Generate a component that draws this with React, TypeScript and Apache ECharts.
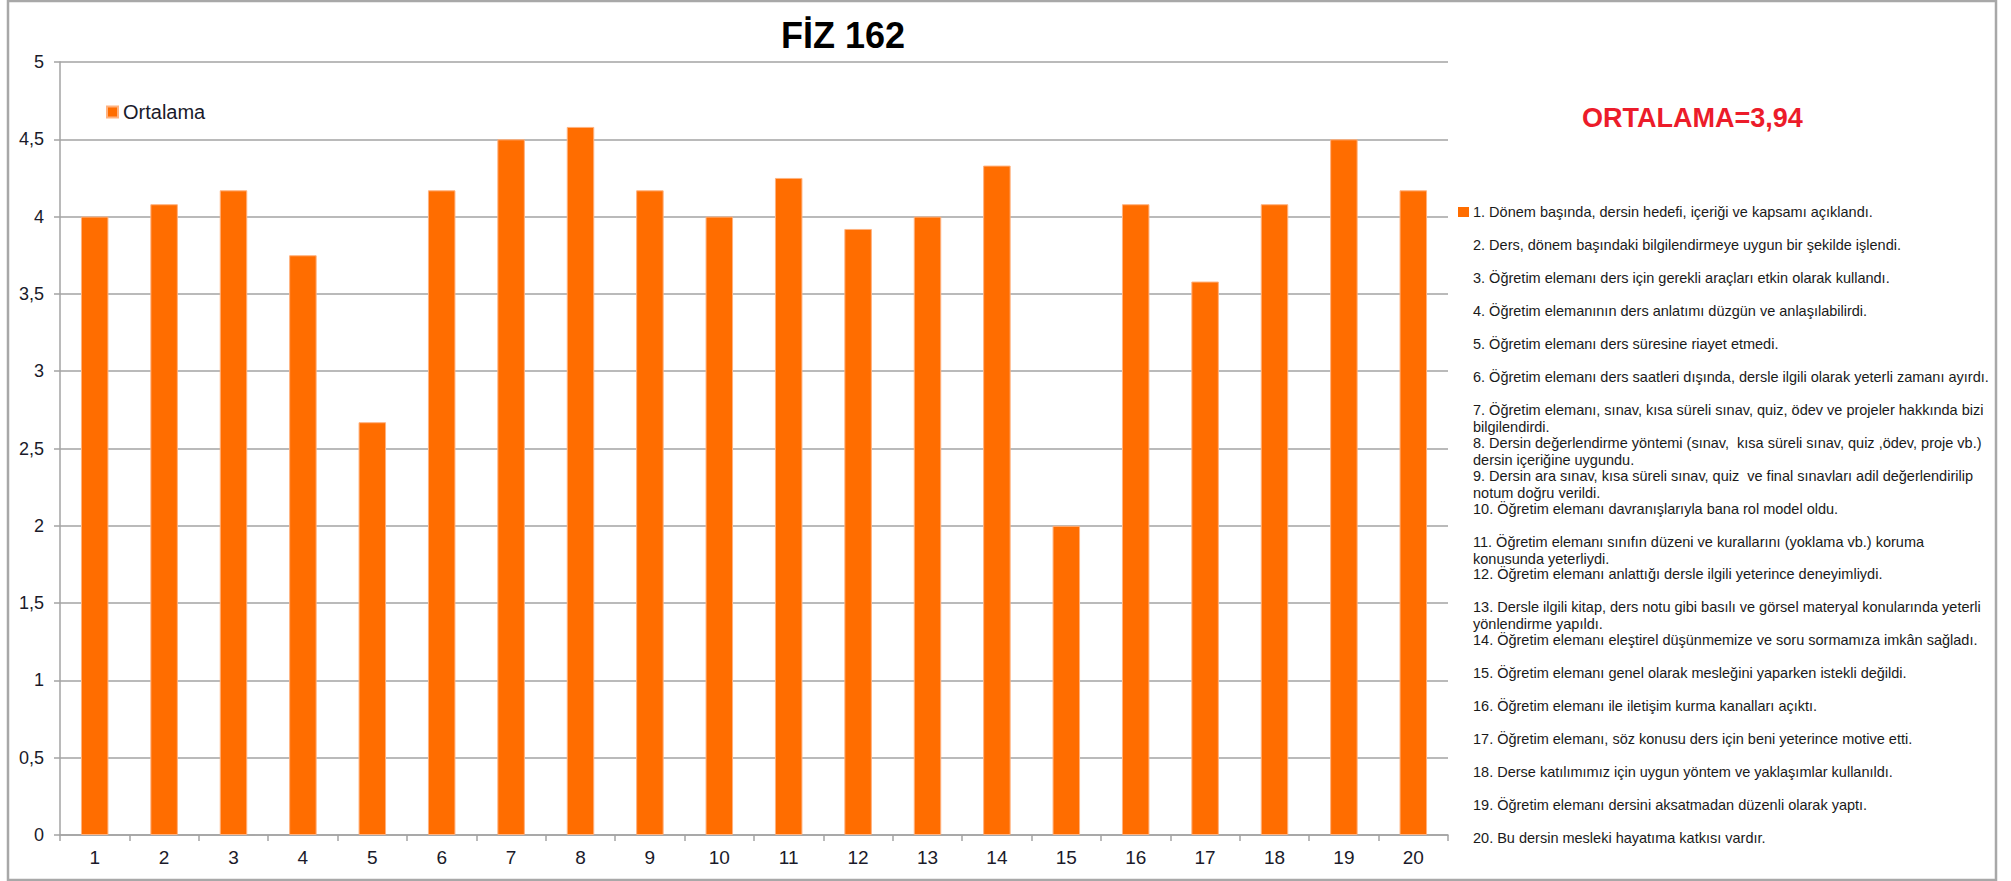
import React, { useEffect, useRef } from "react";
import * as echarts from "echarts";

const categories = ["1", "2", "3", "4", "5", "6", "7", "8", "9", "10", "11", "12", "13", "14", "15", "16", "17", "18", "19", "20"];
const ortalama = [4.0, 4.08, 4.17, 3.75, 2.67, 4.17, 4.5, 4.58, 4.17, 4.0, 4.25, 3.92, 4.0, 4.33, 2.0, 4.08, 3.58, 4.08, 4.5, 4.17];
const yTicks = { min: 0, max: 5, interval: 0.5 };
const titleText = "FİZ 162";
const seriesName = "Ortalama";
const summaryText = "ORTALAMA=3,94";
const questions = [
  "1. Dönem başında, dersin hedefi, içeriği ve kapsamı açıklandı.",
  "2. Ders, dönem başındaki bilgilendirmeye uygun bir şekilde işlendi.",
  "3. Öğretim elemanı ders için gerekli araçları etkin olarak kullandı.",
  "4. Öğretim elemanının ders anlatımı düzgün ve anlaşılabilirdi.",
  "5. Öğretim elemanı ders süresine riayet etmedi.",
  "6. Öğretim elemanı ders saatleri dışında, dersle ilgili olarak yeterli zamanı ayırdı.",
  "7. Öğretim elemanı, sınav, kısa süreli sınav, quiz, ödev ve projeler hakkında bizi\nbilgilendirdi.",
  "8. Dersin değerlendirme yöntemi (sınav,  kısa süreli sınav, quiz ,ödev, proje vb.)\ndersin içeriğine uygundu.",
  "9. Dersin ara sınav, kısa süreli sınav, quiz  ve final sınavları adil değerlendirilip\nnotum doğru verildi.",
  "10. Öğretim elemanı davranışlarıyla bana rol model oldu.",
  "11. Öğretim elemanı sınıfın düzeni ve kurallarını (yoklama vb.) koruma\nkonusunda yeterliydi.",
  "12. Öğretim elemanı anlattığı dersle ilgili yeterince deneyimliydi.",
  "13. Dersle ilgili kitap, ders notu gibi basılı ve görsel materyal konularında yeterli\nyönlendirme yapıldı.",
  "14. Öğretim elemanı eleştirel düşünmemize ve soru sormamıza imkân sağladı.",
  "15. Öğretim elemanı genel olarak mesleğini yaparken istekli değildi.",
  "16. Öğretim elemanı ile iletişim kurma kanalları açıktı.",
  "17. Öğretim elemanı, söz konusu ders için beni yeterince motive etti.",
  "18. Derse katılımımız için uygun yöntem ve yaklaşımlar kullanıldı.",
  "19. Öğretim elemanı dersini aksatmadan düzenli olarak yaptı.",
  "20. Bu dersin mesleki hayatıma katkısı vardır.",
];

const FONT = "'Liberation Sans', Arial, sans-serif";
const ORANGE = "#FF6D00";
const GRID_GRAY = "#a3a3a3";

export default function App() {
  const ref = useRef<HTMLDivElement>(null);

  useEffect(() => {
    document.body.style.margin = "0";
    if (!ref.current) return;
    const chart = echarts.init(ref.current, null, { renderer: "svg" });

    const questionTexts = questions.map((q, i) => ({
      type: "text",
      left: 1473,
      top: 212 + i * 32.95 - 8.5,
      style: {
        text: q,
        font: `14.5px ${FONT}`,
        fill: "#1a1a1a",
        lineHeight: 17,
      },
    }));

    chart.setOption({
      animation: false,
      backgroundColor: "#ffffff",
      title: {
        text: titleText,
        left: 838,
        top: 12,
        textAlign: "center",
        textStyle: { fontFamily: FONT, fontSize: 36, fontWeight: "bold", color: "#000" },
      },
      legend: {
        data: [seriesName],
        left: 101,
        top: 97,
        icon: "rect",
        itemWidth: 11,
        itemHeight: 11,
        itemGap: 4,
        textStyle: { fontFamily: FONT, fontSize: 20, color: "#1a1a2a" },
      },
      grid: { left: 60, top: 62, width: 1388, height: 773, containLabel: false },
      xAxis: {
        type: "category",
        data: categories,
        axisLine: { show: true, lineStyle: { color: GRID_GRAY, width: 1.5 } },
        axisTick: { show: true, length: 6, lineStyle: { color: GRID_GRAY, width: 1.5 } },
        axisLabel: { fontFamily: FONT, fontSize: 19, color: "#1a1a2a", margin: 13 },
      },
      yAxis: {
        type: "value",
        min: yTicks.min,
        max: yTicks.max,
        interval: yTicks.interval,
        axisLine: { show: true, lineStyle: { color: GRID_GRAY, width: 1.5 } },
        axisTick: { show: true, length: 6, lineStyle: { color: GRID_GRAY, width: 1.5 } },
        axisLabel: {
          fontFamily: FONT,
          fontSize: 18,
          color: "#1a1a2a",
          margin: 16,
          formatter: (v: number) => String(v).replace(".", ","),
        },
        splitLine: { show: true, lineStyle: { color: GRID_GRAY, width: 1.5 } },
      },
      series: [
        {
          name: seriesName,
          type: "bar",
          data: ortalama,
          barWidth: 27.5,
          itemStyle: { color: ORANGE, borderColor: "#ffb27f", borderWidth: 1 },
        },
      ],
      graphic: [
        {
          type: "rect",
          shape: { x: 8, y: 1, width: 1988, height: 879 },
          style: { fill: "none", stroke: "#a8a8a8", lineWidth: 2.5 },
          silent: true,
        },
        {
          type: "text",
          left: 1582,
          top: 119 - 15,
          style: {
            text: summaryText,
            font: `bold 27px ${FONT}`,
            fill: "#ec1c2a",
          },
        },
        {
          type: "rect",
          shape: { x: 1458, y: 207, width: 11, height: 10 },
          style: { fill: ORANGE },
        },
        ...questionTexts,
      ],
    });

    return () => chart.dispose();
  }, []);

  return <div ref={ref} style={{ width: 2011, height: 881 }} />;
}
